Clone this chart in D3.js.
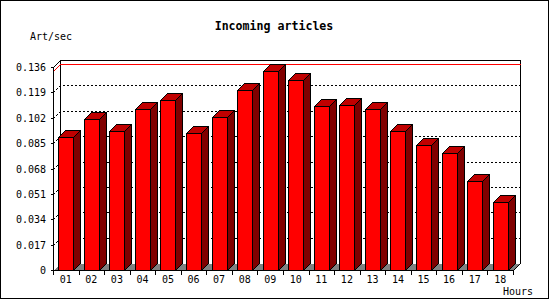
<!DOCTYPE html>
<html>
<head>
<meta charset="utf-8">
<script src="https://d3js.org/d3.v7.min.js"></script>
<style>
  body { margin: 0; background: #fff; }
  svg { display: block; }
  text { font-family: "DejaVu Sans Mono", monospace; fill: #000; }
</style>
</head>
<body>
<div id="chart"></div>
<script>
var hours = ['01','02','03','04','05','06','07','08','09','10','11','12','13','14','15','16','17','18'];
var artPerSec = [0.0891, 0.1012, 0.0929, 0.1079, 0.1139, 0.0916, 0.1025, 0.1206, 0.1333,
                 0.1273, 0.1097, 0.1103, 0.1077, 0.0929, 0.0835, 0.0782, 0.0598, 0.0453];
var yTicks = [0, 0.017, 0.034, 0.051, 0.068, 0.085, 0.102, 0.119, 0.136];
var yTickLabels = ['0', '0.017', '0.034', '0.051', '0.068', '0.085', '0.102', '0.119', '0.136'];

var width = 550;
var height = 300;
var depth = 7;
// note: "top" is taken by window.top, so plot edges get their own names
var plotLeft = 53, plotRight = 513, plotBottom = 270, plotTop = 67;

var svg = d3.select('#chart')
  .append('svg')
  .attr('width', width)
  .attr('height', height)
  .attr('shape-rendering', 'crispEdges');

var x = d3.scaleBand()
  .domain(hours)
  .range([plotLeft, plotRight]);
var xBar = d3.scaleBand()
  .domain(hours)
  .range([plotLeft, plotRight])
  .paddingInner(0.413)
  .paddingOuter(0.2065);
var y = d3.scaleLinear()
  .domain([0, yTicks[yTicks.length - 1]])
  .range([plotBottom, plotTop]);

function px(v) { return Math.round(v) + 0.5; }

// frame round the image
svg.append('rect')
  .attr('x', 0.5).attr('y', 0.5)
  .attr('width', 548).attr('height', 298)
  .attr('fill', 'none').attr('stroke', '#000');

svg.append('text')
  .attr('x', 274).attr('y', 30)
  .attr('text-anchor', 'middle')
  .style('font-size', '11.6px')
  .style('font-weight', 'bold')
  .text('Incoming articles');

svg.append('text')
  .attr('x', 30).attr('y', 40)
  .style('font-size', '10px')
  .text('Art/sec');

var y0 = px(y(0)), yTop = px(y(yTicks[yTicks.length - 1]));
var xl = px(plotLeft), xr = px(plotRight);

// floor
svg.append('polygon')
  .attr('points', [[xl, y0], [xl + depth, y0 - depth], [xr + depth, y0 - depth], [xr, y0]].join(' '))
  .attr('fill', '#808080');

// back wall
svg.append('path')
  .attr('d', 'M' + (xl + depth) + ',' + (y0 - depth) + 'V' + (yTop - depth) +
             'H' + (xr + depth) + 'V' + (y0 - depth))
  .attr('fill', 'none').attr('stroke', '#000');

// dotted grid
svg.selectAll('.grid')
  .data(yTicks.slice(1, -1))
  .enter()
  .append('path')
  .attr('class', 'grid')
  .attr('d', function(d) {
    var yy = px(y(d));
    return 'M' + xl + ',' + yy + 'L' + (xl + depth) + ',' + (yy - depth) + 'H' + (xr + depth);
  })
  .attr('fill', 'none').attr('stroke', '#000')
  .attr('stroke-dasharray', '2,2');

// max line
var ym = px(y(d3.max(artPerSec)));
svg.append('path')
  .attr('d', 'M' + xl + ',' + ym + 'L' + (xl + depth) + ',' + (ym - depth) + 'H' + (xr + depth))
  .attr('fill', 'none').attr('stroke', '#ff0000');

var bw = Math.round(xBar.bandwidth());
var bars = svg.selectAll('.bar')
  .data(hours)
  .enter()
  .append('g')
  .attr('class', 'bar');

bars.append('rect')
  .attr('x', function(d) { return px(xBar(d)); })
  .attr('y', function(d, i) { return px(y(artPerSec[i])); })
  .attr('width', bw)
  .attr('height', function(d, i) { return y0 - px(y(artPerSec[i])); })
  .attr('fill', '#ff0000').attr('stroke', '#000');

bars.append('polygon')
  .attr('points', function(d, i) {
    var x0 = px(xBar(d)), x1 = x0 + bw, yt = px(y(artPerSec[i]));
    return [[x0, yt], [x0 + depth, yt - depth], [x1 + depth, yt - depth], [x1, yt]].join(' ');
  })
  .attr('fill', '#c00000').attr('stroke', '#000');

bars.append('polygon')
  .attr('points', function(d, i) {
    var x1 = px(xBar(d)) + bw, yt = px(y(artPerSec[i]));
    return [[x1, yt], [x1 + depth, yt - depth], [x1 + depth, y0 - depth], [x1, y0]].join(' ');
  })
  .attr('fill', '#800000').attr('stroke', '#000');

// front axes
svg.append('path')
  .attr('d', 'M' + (xl + depth) + ',' + (yTop - depth) + 'L' + xl + ',' + yTop +
             'V' + y0 + 'H' + xr + 'L' + (xr + depth) + ',' + (y0 - depth))
  .attr('fill', 'none').attr('stroke', '#000');

svg.selectAll('.ytick')
  .data(yTicks)
  .enter()
  .append('line')
  .attr('class', 'ytick')
  .attr('x1', xl - 3).attr('x2', xl)
  .attr('y1', function(d) { return px(y(d)); })
  .attr('y2', function(d) { return px(y(d)); })
  .attr('stroke', '#000');

svg.selectAll('.ylabel')
  .data(yTicks)
  .enter()
  .append('text')
  .attr('class', 'ylabel')
  .attr('x', 46)
  .attr('y', function(d) { return Math.round(y(d)) + 4; })
  .attr('text-anchor', 'end')
  .style('font-size', '10px')
  .text(function(d, i) { return yTickLabels[i]; });

svg.selectAll('.xtick')
  .data(hours.concat(['end']))
  .enter()
  .append('line')
  .attr('class', 'xtick')
  .attr('x1', function(d, i) { return px(plotLeft + i * x.step()); })
  .attr('x2', function(d, i) { return px(plotLeft + i * x.step()); })
  .attr('y1', y0).attr('y2', y0 + 4)
  .attr('stroke', '#000');

svg.selectAll('.xlabel')
  .data(hours)
  .enter()
  .append('text')
  .attr('class', 'xlabel')
  .attr('x', function(d) { return x(d) + x.bandwidth() / 2; })
  .attr('y', 283)
  .attr('text-anchor', 'middle')
  .style('font-size', '10px')
  .text(function(d) { return d; });

svg.append('text')
  .attr('x', 533).attr('y', 295)
  .attr('text-anchor', 'end')
  .style('font-size', '10px')
  .text('Hours');
</script>
</body>
</html>
